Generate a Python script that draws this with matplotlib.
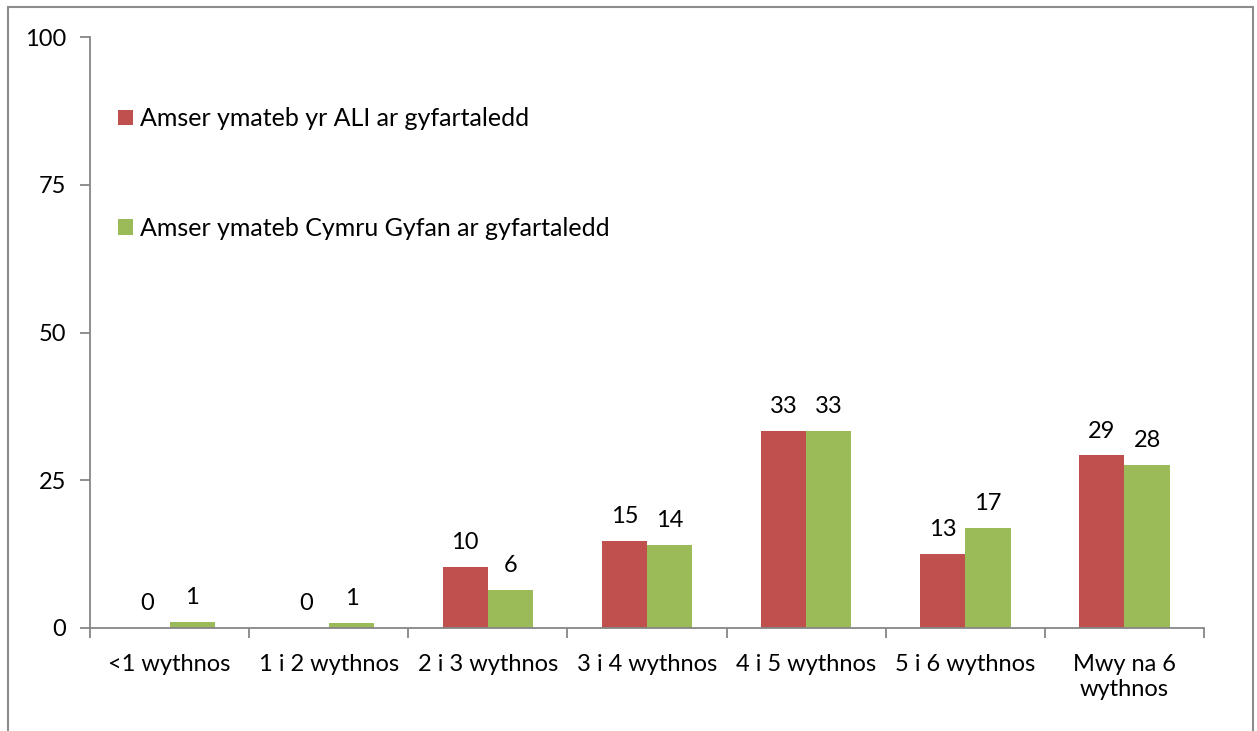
import numpy as np
import matplotlib

matplotlib.use('agg')
from matplotlib import pyplot as plt
from matplotlib.patches import Rectangle

categories = ['<1 wythnos', '1 i 2 wythnos', '2 i 3 wythnos', '3 i 4 wythnos',
              '4 i 5 wythnos', '5 i 6 wythnos', 'Mwy na 6\nwythnos']
ali = [0.0, 0.0, 10.4, 14.7, 33.4, 12.5, 29.2]
cymru = [1.0, 0.8, 6.4, 14.0, 33.4, 16.9, 27.6]
ali_labels = ['0', '0', '10', '15', '33', '13', '29']
cymru_labels = ['1', '1', '6', '14', '33', '17', '28']
series_names = ['Amser ymateb yr ALI ar gyfartaledd',
                'Amser ymateb Cymru Gyfan ar gyfartaledd']
yticks = [0, 25, 50, 75, 100]

plt.rcParams['font.family'] = ['Lato', 'DejaVu Sans']
FS = 17
RED = '#c0504d'
GREEN = '#9bbb59'
GREY = '#868686'

fig = plt.figure(figsize=(12.57, 7.31), dpi=100)
ax = fig.add_axes([90 / 1257, 1 - 628 / 731, (1204 - 90) / 1257, (628 - 37) / 731])

x = np.arange(len(categories))
w = 0.285
b1 = ax.bar(x - w / 2, ali, w, color=RED, label=series_names[0])
b2 = ax.bar(x + w / 2, cymru, w, color=GREEN, label=series_names[1])
ax.bar_label(b1, labels=ali_labels, padding=10, fontsize=FS)
ax.bar_label(b2, labels=cymru_labels, padding=10, fontsize=FS)

ax.set_xlim(-0.5, len(categories) - 0.5)
ax.set_ylim(0, 100)
ax.set_yticks(yticks)
ax.set_xticks(x)
ax.set_xticklabels(categories, fontsize=FS, linespacing=1.2)
ax.set_xticks(np.arange(len(categories) + 1) - 0.5, minor=True)
ax.tick_params(axis='x', which='major', length=0, pad=19)
ax.tick_params(axis='x', which='minor', length=7, color=GREY, width=1.3)
ax.tick_params(axis='y', length=7, color=GREY, width=1.3, labelsize=FS, pad=10)

for s in ['top', 'right']:
    ax.spines[s].set_visible(False)
for s in ['left', 'bottom']:
    ax.spines[s].set_color(GREY)
    ax.spines[s].set_linewidth(1.3)

ax.legend(loc='upper left', bbox_to_anchor=(0.016, 0.898), frameon=False,
          fontsize=18, labelspacing=3.45, handlelength=0.6, handleheight=0.6,
          handletextpad=0.3, borderaxespad=0)

fig.patches.append(Rectangle((8 / 1257, -0.05), 1245 / 1257, 1.05 - 7 / 731,
                             transform=fig.transFigure, fill=False,
                             edgecolor='#8c8c8c', linewidth=1.5))

plt.savefig('out.png', dpi=100)
